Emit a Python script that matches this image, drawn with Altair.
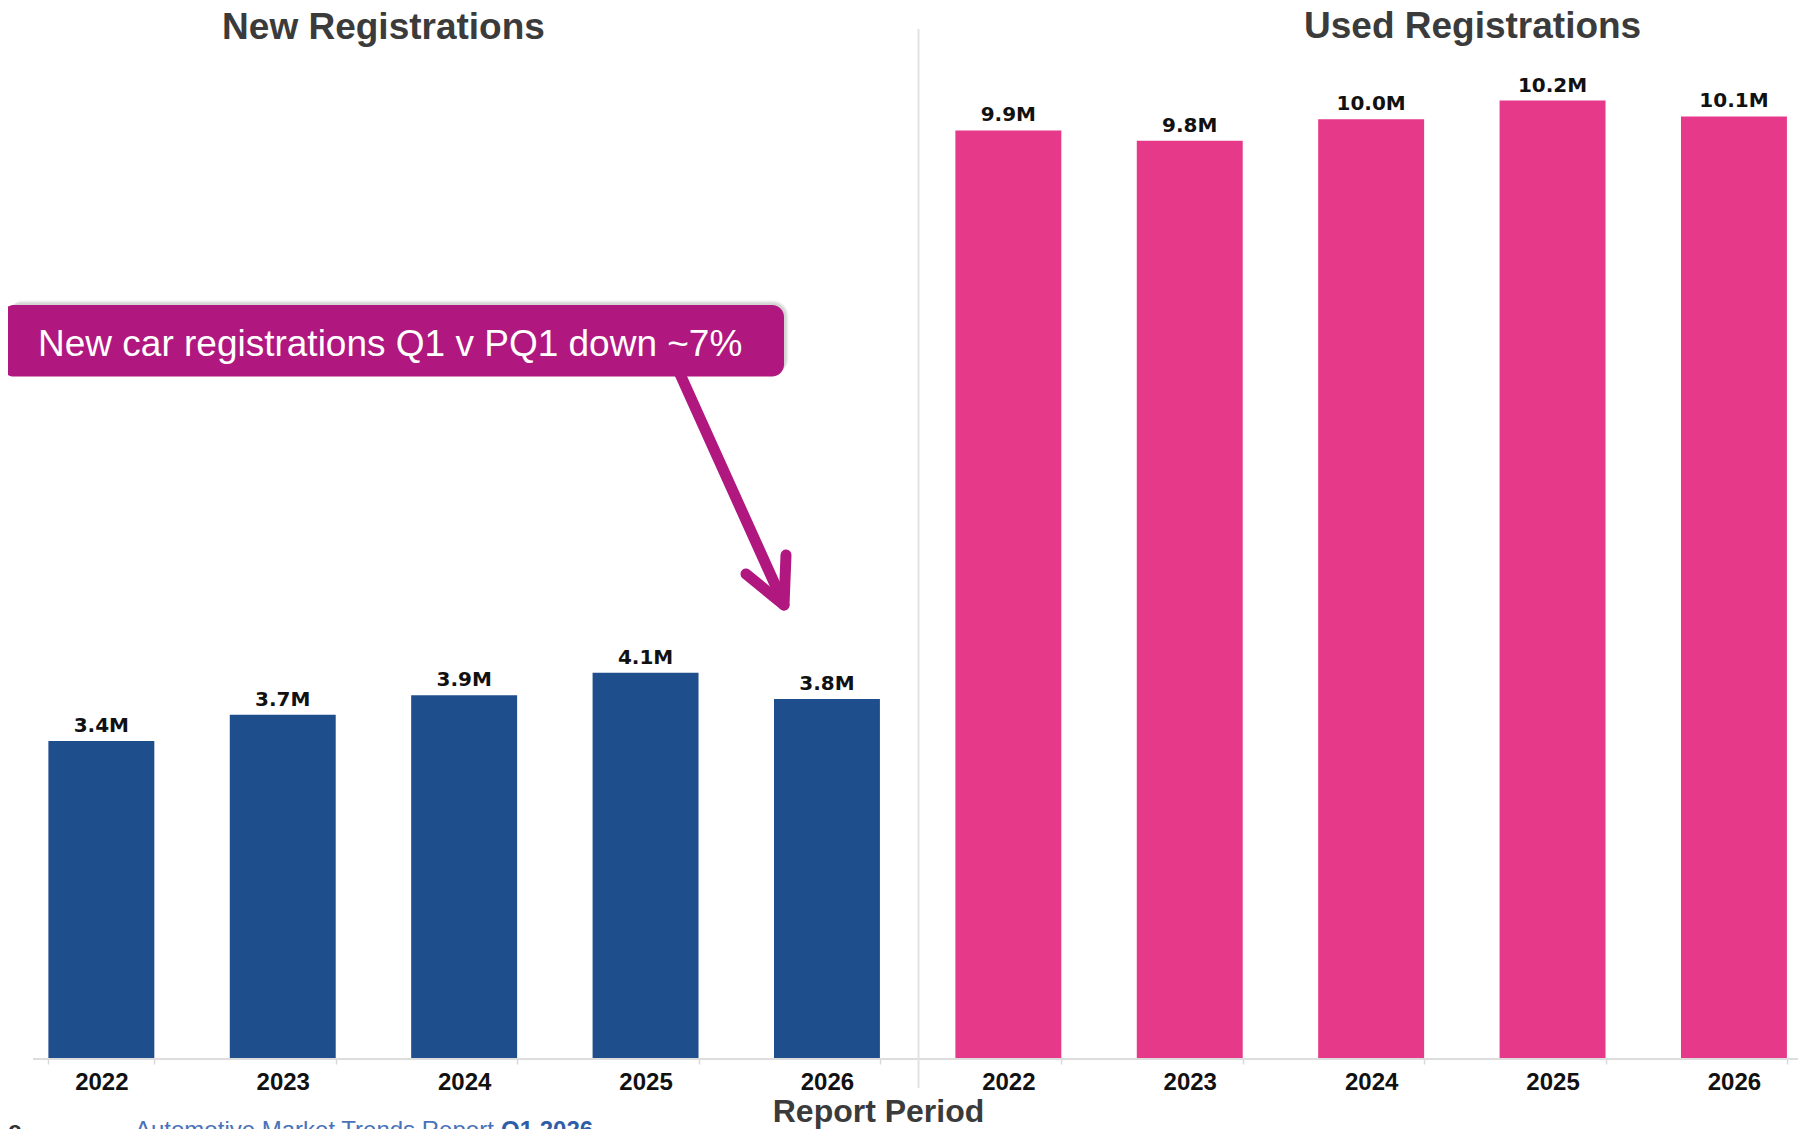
import altair as alt
import pandas as pd

# ---- data ----
years = ["2022", "2023", "2024", "2025", "2026"]
groups = ["New", "Used"]
new_values = [3.39, 3.67, 3.88, 4.12, 3.84]      # millions
used_values = [9.92, 9.81, 10.04, 10.24, 10.07]  # millions
group_colors = ["#1F4E8C", "#E6398A"]
panel_titles = ["New Registrations", "Used Registrations"]
callout_text = "New car registrations Q1 v PQ1 down ~7%"
x_title = "Report Period"
footer_text = "Automotive Market Trends Report"
footer_bold = "Q1 2026"

rows = []
for g, vals in zip(groups, [new_values, used_values]):
    for yr, v in zip(years, vals):
        rows.append({"key": f"{g}-{yr}", "year": yr, "group": g, "value": v})
df = pd.DataFrame(rows)
order = list(df["key"])

W = 1790
H = 1050
BOTTOM = 71
PX_PER_M = 93.5

one = pd.DataFrame({"a": [0]})

x = alt.X(
    "key:N",
    sort=order,
    scale=alt.Scale(range=[2.65, 1816.65], paddingInner=0.416, paddingOuter=0.208),
    axis=alt.Axis(
        title=None,
        labelExpr="split(datum.label, '-')[1]",
        labelAngle=0,
        labelFont="Liberation Sans",
        labelFontSize=24,
        labelFontWeight="bold",
        labelColor="#111111",
        labelPadding=6,
        tickSize=6,
        tickColor="#d9d9d9",
        tickWidth=1.5,
        tickBand="extent",
        domain=False,
        grid=False,
    ),
)
y = alt.Y("value:Q", scale=alt.Scale(domain=[0, H / PX_PER_M]), axis=None)

bars = alt.Chart(df).mark_bar().encode(
    x=x,
    y=y,
    color=alt.Color("group:N", scale=alt.Scale(domain=groups, range=group_colors), legend=None),
)

labels = alt.Chart(df).transform_calculate(
    lab="format(datum.value, '.1f') + 'M'"
).mark_text(
    dy=-9, baseline="alphabetic", font="DejaVu Sans", fontSize=20, fontWeight="bold", color="#111111"
).encode(x=x, y=y, text="lab:N")

# baseline (axis line) and divider between panels
baseline = alt.Chart(one).mark_rule(color="#dddddd", strokeWidth=2).encode(
    x=alt.value(25), x2=alt.value(W), y=alt.value(H + 1)
)
divider = alt.Chart(one).mark_rule(color="#e2e2e2", strokeWidth=2).encode(
    x=alt.value(910.5), y=alt.value(21), y2=alt.value(1080)
)

def txt(t, xv, yv, size, weight="bold", color="#3b3b3b", align="center", font="Liberation Sans"):
    return alt.Chart(one).mark_text(
        text=t, align=align, baseline="alphabetic", fontSize=size, fontWeight=weight,
        color=color, font=font
    ).encode(x=alt.value(xv), y=alt.value(yv))

title_new = txt(panel_titles[0], 375.5, 31, 37)
title_used = txt(panel_titles[1], 1464.6, 30, 37)
title_x = txt(x_title, 870.5, 1114, 32)
footer1 = txt(footer_text, 127, 1130, 24, weight="normal", color="#4a72b8", align="left")
footer2 = txt(footer_bold, 493, 1130, 24, weight="bold", color="#2f5ea8", align="left")
footer_c = txt("c", 0, 1130, 24, weight="bold", color="#333333", align="left")

# callout box with soft shadow
shadows = []
for d, op in [(1, 0.08), (2, 0.07), (3, 0.05), (4, 0.04)]:
    shadows.append(
        alt.Chart(one).mark_rect(color="#444444", opacity=op, cornerRadius=12 + d).encode(
            x=alt.value(0), x2=alt.value(776 + 1 + d),
            y=alt.value(297 - 1 - d), y2=alt.value(368.6 - 3),
        )
    )
box = alt.Chart(one).mark_rect(color="#B0177F", cornerRadius=12).encode(
    x=alt.value(-6), x2=alt.value(776), y=alt.value(297), y2=alt.value(368.6)
)
box_text = txt(callout_text, 30, 347.5, 37, weight="normal", color="#ffffff", align="left")

arrow_col = "#B0177F"
shaft = alt.Chart(one).mark_rule(color=arrow_col, strokeWidth=11, strokeCap="round").encode(
    x=alt.value(672), y=alt.value(366), x2=alt.value(774), y2=alt.value(592)
)
arm1 = alt.Chart(one).mark_rule(color=arrow_col, strokeWidth=11, strokeCap="round").encode(
    x=alt.value(776), y=alt.value(597), x2=alt.value(738), y2=alt.value(566)
)
arm2 = alt.Chart(one).mark_rule(color=arrow_col, strokeWidth=11, strokeCap="round").encode(
    x=alt.value(776), y=alt.value(597), x2=alt.value(778), y2=alt.value(547)
)

chart = alt.layer(
    baseline, divider, bars, labels, *shadows, box, box_text, shaft, arm1, arm2,
    title_new, title_used, title_x, footer1, footer2, footer_c,
).properties(
    width=W,
    height=H,
    autosize=alt.AutoSizeParams(type="none"),
    padding={"left": 0, "right": 0, "top": 0, "bottom": BOTTOM},
    background="#ffffff",
).configure_view(stroke=None)

chart.save("out.html", embed_options={"renderer": "svg", "actions": False})
